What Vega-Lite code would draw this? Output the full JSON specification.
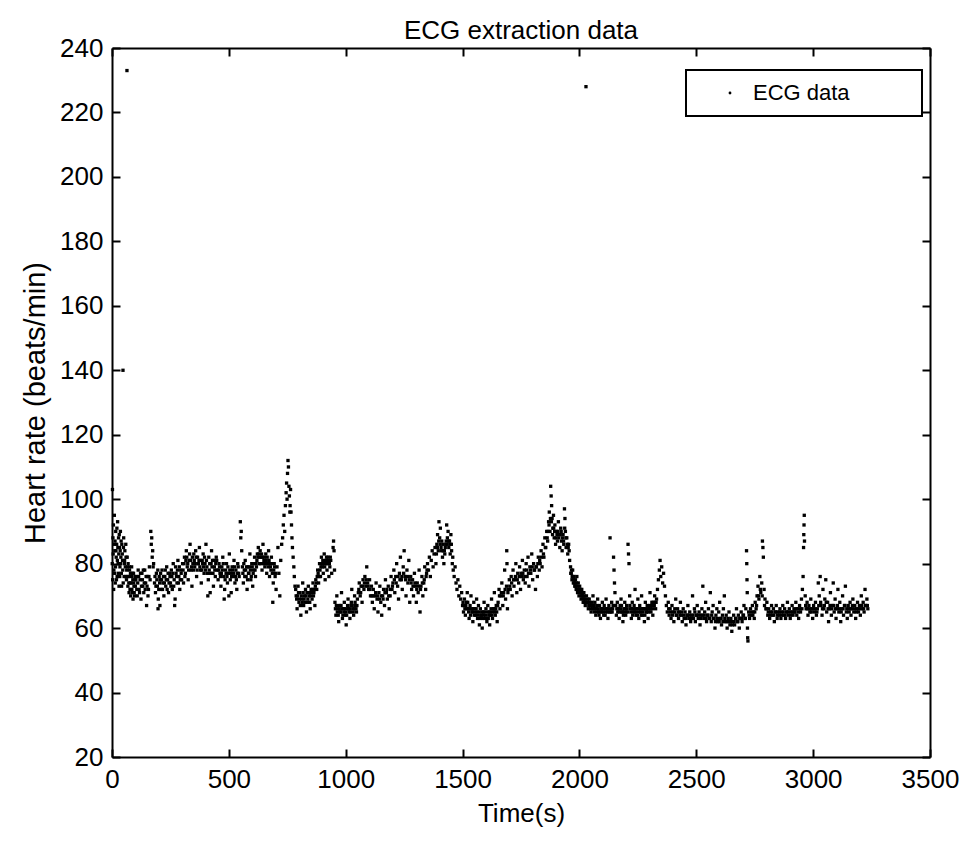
{
"$schema": "https://vega.github.io/schema/vega-lite/v6.json",
"width": 818, "height": 709,
"autosize": {"type": "none"},
"padding": {"left": 112, "top": 48, "right": 41, "bottom": 86},
"background": "white",
"config": {"font": "Liberation Sans", "view": {"stroke": null}, "legend": {"strokeWidth": 2}},
"title": {"text": "ECG extraction data", "fontSize": 26, "fontWeight": "normal", "color": "black", "offset": -9, "anchor": "middle", "frame": "group"},
"data": {"values": [
{"t":1,"h":80},{"t":2,"h":103},{"t":3,"h":75},{"t":4,"h":88},{"t":5,"h":83},{"t":6,"h":92},{"t":7,"h":72},{"t":8,"h":78},{"t":9,"h":86},{"t":10,"h":95},{"t":11,"h":77},{"t":12,"h":84},{"t":14,"h":74},{"t":16,"h":90},{"t":18,"h":82},{"t":20,"h":86},{"t":22,"h":76},{"t":24,"h":93},{"t":26,"h":80},{"t":28,"h":88},{"t":30,"h":73},{"t":32,"h":85},{"t":34,"h":79},{"t":36,"h":90},{"t":38,"h":82},{"t":40,"h":77},{"t":42,"h":86},{"t":45,"h":81},{"t":47,"h":140},{"t":48,"h":74},{"t":50,"h":88},{"t":53,"h":80},{"t":55,"h":84},{"t":58,"h":76},{"t":60,"h":82},{"t":63,"h":78},{"t":64,"h":233},{"t":66,"h":79},{"t":68,"h":73},{"t":70,"h":76},{"t":73,"h":71},{"t":75,"h":78},{"t":78,"h":74},{"t":80,"h":70},{"t":83,"h":76},{"t":85,"h":72},{"t":88,"h":77},{"t":90,"h":69},{"t":93,"h":74},{"t":95,"h":71},{"t":98,"h":76},
{"t":100,"h":73},{"t":104,"h":76},{"t":108,"h":70},{"t":112,"h":78},{"t":116,"h":72},{"t":120,"h":75},{"t":124,"h":69},{"t":128,"h":77},{"t":132,"h":73},{"t":136,"h":71},{"t":140,"h":78},{"t":144,"h":74},{"t":148,"h":67},{"t":152,"h":76},{"t":156,"h":72},{"t":160,"h":79},{"t":163,"h":75},
{"t":166,"h":90},{"t":168,"h":86},{"t":170,"h":88},{"t":172,"h":82},{"t":174,"h":84},{"t":176,"h":79},{"t":178,"h":80},
{"t":182,"h":74},{"t":186,"h":71},{"t":190,"h":77},{"t":194,"h":73},{"t":197,"h":66},{"t":198,"h":69},{"t":202,"h":76},{"t":205,"h":67},{"t":206,"h":75},{"t":210,"h":72},{"t":214,"h":78},{"t":218,"h":74},{"t":222,"h":70},{"t":226,"h":76},{"t":230,"h":73},{"t":234,"h":79},{"t":238,"h":75},{"t":242,"h":71},{"t":246,"h":77},{"t":250,"h":74},
{"t":254,"h":78},{"t":258,"h":72},{"t":262,"h":80},{"t":266,"h":75},{"t":268,"h":67},{"t":270,"h":69},{"t":274,"h":77},{"t":278,"h":74},{"t":282,"h":81},{"t":286,"h":76},{"t":290,"h":72},{"t":294,"h":78},{"t":298,"h":75},
{"t":302,"h":80},{"t":306,"h":74},{"t":310,"h":82},{"t":314,"h":77},{"t":318,"h":84},{"t":322,"h":79},{"t":326,"h":75},{"t":330,"h":81},{"t":334,"h":86},{"t":338,"h":78},{"t":342,"h":73},{"t":346,"h":80},{"t":350,"h":83},
{"t":354,"h":79},{"t":358,"h":84},{"t":362,"h":76},{"t":366,"h":82},{"t":370,"h":80},{"t":374,"h":85},{"t":378,"h":78},{"t":382,"h":74},{"t":386,"h":81},{"t":390,"h":83},{"t":394,"h":77},{"t":398,"h":80},{"t":402,"h":86},{"t":406,"h":79},{"t":410,"h":70},{"t":412,"h":75},{"t":414,"h":82},{"t":418,"h":80},{"t":420,"h":71},{"t":422,"h":77},{"t":426,"h":84},{"t":430,"h":81},{"t":434,"h":73},{"t":438,"h":79},{"t":442,"h":76},{"t":446,"h":82},{"t":450,"h":78},
{"t":454,"h":75},{"t":458,"h":80},{"t":462,"h":77},{"t":466,"h":73},{"t":470,"h":79},{"t":474,"h":82},{"t":478,"h":76},{"t":480,"h":69},{"t":482,"h":72},{"t":486,"h":78},{"t":490,"h":80},{"t":494,"h":74},{"t":498,"h":77},{"t":500,"h":70},{"t":502,"h":83},{"t":506,"h":75},{"t":510,"h":71},{"t":514,"h":79},{"t":518,"h":76},{"t":522,"h":81},{"t":526,"h":74},{"t":530,"h":78},{"t":534,"h":72},{"t":538,"h":80},{"t":542,"h":77},
{"t":549,"h":93},{"t":551,"h":88},{"t":553,"h":90},{"t":555,"h":84},
{"t":558,"h":79},{"t":562,"h":74},{"t":566,"h":78},{"t":570,"h":81},{"t":574,"h":76},{"t":578,"h":72},{"t":582,"h":79},{"t":586,"h":77},{"t":590,"h":83},{"t":594,"h":75},{"t":598,"h":80},{"t":602,"h":73},{"t":606,"h":78},{"t":610,"h":82},{"t":614,"h":76},{"t":618,"h":79},
{"t":622,"h":83},{"t":626,"h":85},{"t":630,"h":80},{"t":634,"h":84},{"t":638,"h":82},{"t":642,"h":78},{"t":646,"h":86},{"t":650,"h":81},{"t":654,"h":79},{"t":658,"h":83},{"t":662,"h":77},{"t":666,"h":80},{"t":670,"h":84},{"t":674,"h":76},{"t":678,"h":79},{"t":682,"h":82},{"t":686,"h":77},{"t":688,"h":68},{"t":690,"h":74},{"t":694,"h":80},{"t":698,"h":76},
{"t":702,"h":72},{"t":706,"h":79},{"t":710,"h":85},{"t":714,"h":77},{"t":718,"h":70},{"t":722,"h":81},{"t":726,"h":86},{"t":730,"h":88},
{"t":733,"h":92},{"t":736,"h":95},{"t":739,"h":90},{"t":742,"h":98},{"t":745,"h":102},{"t":747,"h":105},{"t":749,"h":100},{"t":751,"h":108},{"t":753,"h":112},{"t":755,"h":110},{"t":757,"h":104},{"t":759,"h":101},
{"t":761,"h":96},{"t":762,"h":98},{"t":764,"h":103},{"t":766,"h":96},{"t":768,"h":92},{"t":770,"h":88},{"t":772,"h":85},{"t":775,"h":82},{"t":778,"h":79},{"t":780,"h":76},{"t":783,"h":73},
{"t":788,"h":70},{"t":792,"h":66},{"t":796,"h":73},{"t":800,"h":68},{"t":804,"h":71},{"t":808,"h":64},{"t":812,"h":69},{"t":816,"h":74},{"t":820,"h":67},{"t":824,"h":70},{"t":828,"h":72},{"t":832,"h":65},{"t":836,"h":68},{"t":840,"h":73},{"t":844,"h":70},{"t":848,"h":66},{"t":852,"h":72},{"t":856,"h":69},{"t":860,"h":74},{"t":864,"h":71},{"t":868,"h":67},
{"t":872,"h":75},{"t":876,"h":72},{"t":880,"h":78},{"t":884,"h":74},{"t":888,"h":80},{"t":892,"h":76},{"t":896,"h":82},{"t":900,"h":79},{"t":904,"h":77},{"t":908,"h":83},{"t":912,"h":75},{"t":916,"h":80},{"t":920,"h":78},{"t":924,"h":82},{"t":928,"h":76},{"t":932,"h":79},{"t":936,"h":81},{"t":940,"h":77},{"t":946,"h":85},{"t":948,"h":87},{"t":950,"h":84},{"t":952,"h":78},
{"t":954,"h":68},{"t":958,"h":64},{"t":962,"h":70},{"t":966,"h":66},{"t":970,"h":62},{"t":974,"h":67},{"t":978,"h":65},{"t":982,"h":71},{"t":986,"h":63},{"t":990,"h":66},{"t":994,"h":68},{"t":998,"h":64},{"t":1002,"h":61},{"t":1006,"h":66},{"t":1010,"h":69},{"t":1014,"h":65},{"t":1018,"h":63},{"t":1022,"h":67},{"t":1026,"h":72},{"t":1030,"h":66},{"t":1034,"h":64},{"t":1038,"h":70},{"t":1042,"h":67},{"t":1046,"h":65},{"t":1050,"h":69},
{"t":1054,"h":71},{"t":1058,"h":74},{"t":1062,"h":70},{"t":1066,"h":73},{"t":1070,"h":68},{"t":1074,"h":75},{"t":1078,"h":72},{"t":1082,"h":76},{"t":1086,"h":73},{"t":1090,"h":79},{"t":1094,"h":74},{"t":1098,"h":72},{"t":1102,"h":75},{"t":1106,"h":70},{"t":1110,"h":73},
{"t":1114,"h":68},{"t":1118,"h":72},{"t":1122,"h":66},{"t":1126,"h":70},{"t":1130,"h":74},{"t":1134,"h":69},{"t":1138,"h":65},{"t":1142,"h":71},{"t":1146,"h":73},{"t":1150,"h":68},{"t":1154,"h":64},{"t":1158,"h":70},{"t":1162,"h":72},{"t":1166,"h":67},{"t":1170,"h":75},{"t":1174,"h":71},{"t":1178,"h":69},{"t":1182,"h":73},{"t":1186,"h":66},{"t":1190,"h":70},{"t":1194,"h":76},{"t":1198,"h":72},
{"t":1202,"h":74},{"t":1206,"h":78},{"t":1210,"h":71},{"t":1214,"h":76},{"t":1218,"h":80},{"t":1222,"h":73},{"t":1226,"h":69},{"t":1230,"h":77},{"t":1234,"h":82},{"t":1238,"h":75},{"t":1242,"h":72},{"t":1246,"h":79},{"t":1250,"h":84},{"t":1254,"h":76},{"t":1258,"h":70},{"t":1262,"h":78},{"t":1266,"h":74},{"t":1270,"h":81},{"t":1274,"h":68},{"t":1278,"h":76},
{"t":1282,"h":72},{"t":1286,"h":75},{"t":1290,"h":70},{"t":1294,"h":77},{"t":1298,"h":73},{"t":1302,"h":68},{"t":1306,"h":74},{"t":1310,"h":71},{"t":1314,"h":78},{"t":1318,"h":65},{"t":1322,"h":73},{"t":1326,"h":76},{"t":1330,"h":70},{"t":1334,"h":74},{"t":1338,"h":79},{"t":1342,"h":72},{"t":1346,"h":77},{"t":1350,"h":80},
{"t":1354,"h":78},{"t":1358,"h":82},{"t":1362,"h":76},{"t":1366,"h":81},{"t":1370,"h":84},{"t":1374,"h":79},{"t":1378,"h":83},{"t":1382,"h":85},{"t":1386,"h":80},
{"t":1390,"h":86},{"t":1393,"h":89},{"t":1396,"h":84},{"t":1399,"h":93},{"t":1402,"h":88},{"t":1405,"h":91},{"t":1408,"h":85},{"t":1411,"h":87},{"t":1414,"h":82},{"t":1417,"h":84},{"t":1420,"h":80},
{"t":1424,"h":83},{"t":1428,"h":86},{"t":1432,"h":92},{"t":1435,"h":88},{"t":1438,"h":90},{"t":1441,"h":85},{"t":1444,"h":87},{"t":1447,"h":83},{"t":1450,"h":89},{"t":1453,"h":84},{"t":1456,"h":80},{"t":1460,"h":78},
{"t":1464,"h":76},{"t":1468,"h":79},{"t":1472,"h":74},{"t":1476,"h":72},{"t":1480,"h":75},{"t":1484,"h":70},{"t":1488,"h":73},{"t":1492,"h":69},{"t":1496,"h":71},{"t":1500,"h":67},
{"t":1504,"h":65},{"t":1508,"h":69},{"t":1512,"h":64},{"t":1516,"h":68},{"t":1520,"h":71},{"t":1524,"h":66},{"t":1528,"h":63},{"t":1532,"h":67},{"t":1536,"h":70},{"t":1540,"h":65},{"t":1544,"h":62},{"t":1548,"h":68},{"t":1552,"h":66},{"t":1556,"h":64},{"t":1560,"h":69},
{"t":1564,"h":63},{"t":1568,"h":67},{"t":1572,"h":61},{"t":1576,"h":66},{"t":1580,"h":64},{"t":1584,"h":60},{"t":1588,"h":65},{"t":1592,"h":68},{"t":1596,"h":63},{"t":1600,"h":66},{"t":1604,"h":62},{"t":1608,"h":67},{"t":1612,"h":64},{"t":1616,"h":61},{"t":1620,"h":65},{"t":1624,"h":69},{"t":1628,"h":63},{"t":1632,"h":66},{"t":1636,"h":71},{"t":1640,"h":64},{"t":1644,"h":67},{"t":1648,"h":62},
{"t":1652,"h":68},{"t":1656,"h":72},{"t":1660,"h":66},{"t":1664,"h":70},{"t":1668,"h":74},{"t":1672,"h":67},{"t":1676,"h":71},{"t":1680,"h":78},{"t":1684,"h":69},{"t":1688,"h":73},{"t":1689,"h":84},{"t":1690,"h":80},{"t":1692,"h":66},{"t":1696,"h":72},{"t":1700,"h":75},
{"t":1704,"h":72},{"t":1708,"h":76},{"t":1712,"h":70},{"t":1716,"h":78},{"t":1720,"h":73},{"t":1724,"h":75},{"t":1728,"h":80},{"t":1732,"h":71},{"t":1736,"h":77},{"t":1740,"h":74},{"t":1744,"h":79},{"t":1748,"h":72},{"t":1752,"h":76},{"t":1756,"h":81},{"t":1760,"h":75},
{"t":1764,"h":78},{"t":1768,"h":74},{"t":1772,"h":80},{"t":1776,"h":76},{"t":1780,"h":82},{"t":1784,"h":73},{"t":1788,"h":79},{"t":1792,"h":77},{"t":1796,"h":83},{"t":1800,"h":75},{"t":1804,"h":80},{"t":1808,"h":78},{"t":1812,"h":72},{"t":1816,"h":79},{"t":1820,"h":76},{"t":1824,"h":82},{"t":1828,"h":78},
{"t":1832,"h":80},{"t":1836,"h":84},{"t":1840,"h":79},{"t":1844,"h":86},{"t":1848,"h":82},{"t":1852,"h":88},{"t":1856,"h":85},{"t":1860,"h":90},{"t":1864,"h":87},
{"t":1868,"h":93},{"t":1871,"h":96},{"t":1874,"h":90},{"t":1877,"h":104},{"t":1879,"h":101},{"t":1881,"h":98},{"t":1883,"h":94},{"t":1886,"h":91},{"t":1889,"h":95},{"t":1892,"h":88},{"t":1895,"h":92},{"t":1898,"h":86},
{"t":1902,"h":90},{"t":1906,"h":87},{"t":1910,"h":93},{"t":1913,"h":89},{"t":1916,"h":85},{"t":1920,"h":91},{"t":1923,"h":87},{"t":1926,"h":84},{"t":1930,"h":89},{"t":1933,"h":86},{"t":1936,"h":97},{"t":1938,"h":94},{"t":1940,"h":90},{"t":1943,"h":85},{"t":1946,"h":88},{"t":1950,"h":83},{"t":1954,"h":86},{"t":1958,"h":81},
{"t":1962,"h":79},{"t":1965,"h":77},{"t":1968,"h":75},{"t":1971,"h":78},{"t":1974,"h":74},{"t":1977,"h":76},{"t":1980,"h":73},{"t":1983,"h":75},{"t":1986,"h":72},{"t":1989,"h":76},{"t":1992,"h":71},{"t":1995,"h":74},{"t":1998,"h":70},{"t":2001,"h":73},{"t":2004,"h":71},{"t":2007,"h":69},{"t":2010,"h":72},{"t":2013,"h":70},{"t":2016,"h":68},{"t":2019,"h":71},{"t":2022,"h":69},{"t":2025,"h":67},{"t":2028,"h":228},{"t":2030,"h":70},{"t":2034,"h":68},{"t":2038,"h":66},{"t":2042,"h":69},{"t":2046,"h":67},{"t":2050,"h":65},{"t":2054,"h":68},{"t":2058,"h":70},{"t":2062,"h":66},{"t":2066,"h":68},{"t":2070,"h":64},{"t":2074,"h":67},{"t":2078,"h":69},{"t":2082,"h":65},{"t":2086,"h":67},{"t":2090,"h":63},{"t":2094,"h":66},{"t":2098,"h":68},
{"t":2102,"h":65},{"t":2106,"h":67},{"t":2110,"h":64},{"t":2114,"h":69},{"t":2118,"h":66},{"t":2122,"h":63},{"t":2126,"h":67},{"t":2131,"h":88},{"t":2134,"h":65},{"t":2138,"h":68},{"t":2142,"h":66},{"t":2146,"h":82},{"t":2148,"h":78},{"t":2150,"h":74},{"t":2152,"h":71},{"t":2155,"h":67},{"t":2158,"h":64},{"t":2162,"h":68},{"t":2166,"h":66},{"t":2170,"h":63},{"t":2174,"h":67},{"t":2178,"h":69},{"t":2182,"h":65},{"t":2186,"h":62},{"t":2190,"h":66},{"t":2194,"h":68},{"t":2198,"h":64},
{"t":2202,"h":67},{"t":2206,"h":65},{"t":2208,"h":86},{"t":2210,"h":83},{"t":2212,"h":80},{"t":2215,"h":70},{"t":2218,"h":66},{"t":2222,"h":63},{"t":2226,"h":68},{"t":2230,"h":65},{"t":2234,"h":67},{"t":2238,"h":72},{"t":2242,"h":64},{"t":2246,"h":66},{"t":2250,"h":69},{"t":2254,"h":63},{"t":2258,"h":67},{"t":2262,"h":65},{"t":2266,"h":70},{"t":2270,"h":64},{"t":2274,"h":66},{"t":2278,"h":62},{"t":2282,"h":68},{"t":2286,"h":65},{"t":2290,"h":67},{"t":2294,"h":63},{"t":2298,"h":66},
{"t":2302,"h":71},{"t":2306,"h":65},{"t":2310,"h":68},{"t":2314,"h":64},{"t":2318,"h":67},{"t":2322,"h":70},{"t":2326,"h":66},{"t":2330,"h":69},{"t":2334,"h":72},{"t":2338,"h":75},{"t":2342,"h":78},{"t":2345,"h":81},{"t":2348,"h":76},{"t":2352,"h":79},{"t":2356,"h":74},{"t":2360,"h":77},{"t":2364,"h":73},{"t":2368,"h":70},{"t":2372,"h":67},{"t":2376,"h":65},{"t":2380,"h":68},{"t":2384,"h":64},{"t":2388,"h":66},{"t":2392,"h":63},{"t":2396,"h":67},
{"t":2400,"h":65},{"t":2404,"h":62},{"t":2408,"h":66},{"t":2412,"h":69},{"t":2416,"h":64},{"t":2420,"h":66},{"t":2424,"h":63},{"t":2428,"h":65},{"t":2432,"h":68},{"t":2436,"h":64},{"t":2440,"h":62},{"t":2444,"h":66},{"t":2448,"h":63},{"t":2452,"h":65},{"t":2456,"h":61},{"t":2460,"h":64},{"t":2464,"h":67},{"t":2468,"h":63},{"t":2472,"h":65},{"t":2476,"h":62},{"t":2480,"h":64},{"t":2484,"h":70},{"t":2488,"h":63},{"t":2492,"h":66},{"t":2496,"h":62},
{"t":2500,"h":64},{"t":2504,"h":67},{"t":2508,"h":63},{"t":2512,"h":65},{"t":2516,"h":61},{"t":2520,"h":64},{"t":2524,"h":66},{"t":2528,"h":73},{"t":2532,"h":63},{"t":2536,"h":65},{"t":2540,"h":68},{"t":2544,"h":62},{"t":2548,"h":64},{"t":2552,"h":66},{"t":2556,"h":63},{"t":2560,"h":71},{"t":2564,"h":62},{"t":2568,"h":65},{"t":2572,"h":67},{"t":2576,"h":63},{"t":2580,"h":60},{"t":2584,"h":64},{"t":2588,"h":66},{"t":2592,"h":62},{"t":2596,"h":65},
{"t":2600,"h":68},{"t":2604,"h":63},{"t":2608,"h":61},{"t":2612,"h":64},{"t":2616,"h":66},{"t":2620,"h":70},{"t":2624,"h":62},{"t":2628,"h":64},{"t":2632,"h":60},{"t":2636,"h":63},{"t":2640,"h":65},{"t":2644,"h":61},{"t":2648,"h":63},{"t":2652,"h":59},{"t":2656,"h":62},{"t":2660,"h":64},{"t":2664,"h":61},{"t":2668,"h":63},{"t":2672,"h":66},{"t":2676,"h":62},{"t":2680,"h":64},{"t":2684,"h":60},{"t":2688,"h":63},{"t":2692,"h":65},{"t":2696,"h":62},
{"t":2700,"h":64},{"t":2704,"h":67},{"t":2708,"h":63},{"t":2712,"h":66},{"t":2715,"h":84},{"t":2716,"h":80},{"t":2717,"h":75},{"t":2718,"h":71},{"t":2719,"h":60},{"t":2720,"h":57},{"t":2721,"h":56},{"t":2724,"h":65},{"t":2728,"h":63},{"t":2732,"h":66},{"t":2736,"h":64},{"t":2740,"h":67},{"t":2744,"h":65},{"t":2748,"h":63},{"t":2752,"h":68},{"t":2756,"h":66},{"t":2760,"h":70},{"t":2764,"h":73},{"t":2768,"h":69},{"t":2772,"h":76},{"t":2776,"h":71},{"t":2780,"h":74},{"t":2783,"h":87},{"t":2785,"h":85},{"t":2787,"h":82},{"t":2790,"h":72},{"t":2794,"h":69},{"t":2798,"h":66},
{"t":2802,"h":68},{"t":2806,"h":64},{"t":2810,"h":66},{"t":2814,"h":63},{"t":2818,"h":65},{"t":2822,"h":67},{"t":2826,"h":64},{"t":2830,"h":66},{"t":2834,"h":62},{"t":2838,"h":65},{"t":2842,"h":67},{"t":2846,"h":63},{"t":2850,"h":65},{"t":2854,"h":64},{"t":2858,"h":66},{"t":2862,"h":63},{"t":2866,"h":65},{"t":2870,"h":67},{"t":2874,"h":64},{"t":2878,"h":66},{"t":2882,"h":63},{"t":2886,"h":65},{"t":2890,"h":68},{"t":2894,"h":64},{"t":2898,"h":66},
{"t":2902,"h":63},{"t":2906,"h":65},{"t":2910,"h":67},{"t":2914,"h":64},{"t":2918,"h":66},{"t":2922,"h":65},{"t":2926,"h":68},{"t":2930,"h":64},{"t":2934,"h":66},{"t":2938,"h":63},{"t":2942,"h":67},{"t":2946,"h":65},{"t":2950,"h":69},{"t":2954,"h":72},{"t":2957,"h":76},{"t":2959,"h":85},{"t":2960,"h":89},{"t":2961,"h":92},{"t":2962,"h":95},{"t":2963,"h":87},{"t":2966,"h":70},{"t":2970,"h":66},{"t":2974,"h":68},{"t":2978,"h":64},{"t":2982,"h":67},{"t":2986,"h":65},{"t":2990,"h":69},{"t":2994,"h":66},{"t":2998,"h":63},
{"t":3002,"h":67},{"t":3006,"h":65},{"t":3010,"h":68},{"t":3014,"h":64},{"t":3018,"h":66},{"t":3022,"h":74},{"t":3026,"h":70},{"t":3030,"h":76},{"t":3034,"h":67},{"t":3038,"h":64},{"t":3042,"h":72},{"t":3046,"h":66},{"t":3050,"h":69},{"t":3054,"h":75},{"t":3058,"h":65},{"t":3062,"h":68},{"t":3066,"h":62},{"t":3070,"h":66},{"t":3074,"h":71},{"t":3078,"h":64},{"t":3082,"h":67},{"t":3086,"h":74},{"t":3090,"h":65},{"t":3094,"h":69},{"t":3098,"h":63},
{"t":3102,"h":66},{"t":3106,"h":72},{"t":3110,"h":65},{"t":3114,"h":68},{"t":3118,"h":62},{"t":3122,"h":66},{"t":3126,"h":70},{"t":3130,"h":64},{"t":3134,"h":67},{"t":3138,"h":73},{"t":3142,"h":65},{"t":3146,"h":63},{"t":3150,"h":67},{"t":3154,"h":65},{"t":3158,"h":68},{"t":3162,"h":64},{"t":3166,"h":66},{"t":3170,"h":69},{"t":3174,"h":65},{"t":3178,"h":67},{"t":3182,"h":63},{"t":3186,"h":66},{"t":3190,"h":68},{"t":3194,"h":65},{"t":3198,"h":67},
{"t":3202,"h":64},{"t":3206,"h":70},{"t":3210,"h":66},{"t":3214,"h":68},{"t":3218,"h":65},{"t":3222,"h":72},{"t":3226,"h":67},{"t":3230,"h":69},{"t":3234,"h":66},
{"t":13,"h":87},{"t":15,"h":79},{"t":17,"h":84},{"t":19,"h":75},{"t":21,"h":91},{"t":23,"h":81},{"t":25,"h":85},{"t":27,"h":77},{"t":29,"h":83},{"t":31,"h":89},{"t":33,"h":76},{"t":35,"h":84},{"t":37,"h":80},{"t":39,"h":87},{"t":41,"h":73},{"t":44,"h":83},{"t":46,"h":78},{"t":49,"h":85},{"t":52,"h":76},{"t":54,"h":81},{"t":57,"h":79},{"t":59,"h":86},{"t":62,"h":75},{"t":65,"h":82},{"t":67,"h":76},{"t":69,"h":80},{"t":72,"h":74},{"t":74,"h":79},{"t":77,"h":72},{"t":79,"h":77},{"t":82,"h":74},{"t":84,"h":79},{"t":87,"h":71},{"t":89,"h":75},{"t":92,"h":77},{"t":94,"h":73},{"t":97,"h":70},{"t":99,"h":75},
{"t":102,"h":75},{"t":106,"h":72},{"t":110,"h":74},{"t":114,"h":76},{"t":118,"h":71},{"t":122,"h":77},{"t":126,"h":73},{"t":130,"h":75},{"t":134,"h":78},{"t":138,"h":74},{"t":142,"h":72},{"t":146,"h":76},{"t":150,"h":73},{"t":154,"h":70},{"t":158,"h":76},
{"t":184,"h":76},{"t":188,"h":73},{"t":192,"h":75},{"t":196,"h":78},{"t":200,"h":72},{"t":204,"h":74},{"t":208,"h":77},{"t":212,"h":75},{"t":216,"h":72},{"t":220,"h":76},{"t":224,"h":74},{"t":228,"h":78},{"t":232,"h":75},{"t":236,"h":72},{"t":240,"h":77},{"t":244,"h":74},{"t":248,"h":76},{"t":252,"h":73},{"t":256,"h":76},{"t":260,"h":77},{"t":264,"h":73},{"t":272,"h":79},{"t":276,"h":76},{"t":280,"h":78},{"t":284,"h":74},{"t":288,"h":79},{"t":292,"h":75},{"t":296,"h":77},
{"t":304,"h":78},{"t":308,"h":80},{"t":312,"h":76},{"t":316,"h":81},{"t":320,"h":82},{"t":324,"h":80},{"t":328,"h":78},{"t":332,"h":83},{"t":336,"h":81},{"t":340,"h":79},{"t":344,"h":82},{"t":348,"h":78},{"t":352,"h":81},{"t":356,"h":80},{"t":360,"h":82},{"t":364,"h":78},{"t":368,"h":80},{"t":372,"h":81},{"t":376,"h":79},{"t":380,"h":81},{"t":384,"h":78},{"t":388,"h":80},{"t":392,"h":79},{"t":396,"h":82},{"t":400,"h":78},{"t":404,"h":81},{"t":408,"h":77},{"t":416,"h":78},{"t":424,"h":80},{"t":428,"h":79},{"t":432,"h":77},{"t":436,"h":81},{"t":440,"h":78},{"t":444,"h":80},{"t":448,"h":81},
{"t":456,"h":78},{"t":460,"h":79},{"t":464,"h":76},{"t":468,"h":77},{"t":472,"h":78},{"t":476,"h":80},{"t":484,"h":75},{"t":488,"h":77},{"t":492,"h":76},{"t":496,"h":79},{"t":504,"h":78},{"t":508,"h":77},{"t":512,"h":76},{"t":516,"h":78},{"t":520,"h":77},{"t":524,"h":79},{"t":528,"h":76},{"t":532,"h":75},{"t":536,"h":77},{"t":540,"h":79},{"t":544,"h":76},{"t":560,"h":77},{"t":564,"h":80},{"t":568,"h":76},{"t":572,"h":78},{"t":576,"h":79},{"t":580,"h":75},{"t":584,"h":77},{"t":588,"h":79},{"t":592,"h":78},{"t":596,"h":76},{"t":600,"h":79},{"t":604,"h":77},{"t":608,"h":80},{"t":612,"h":78},{"t":616,"h":80},{"t":620,"h":81},{"t":624,"h":82},{"t":628,"h":83},{"t":632,"h":82},{"t":636,"h":80},{"t":640,"h":83},{"t":644,"h":82},{"t":648,"h":80},{"t":652,"h":82},{"t":656,"h":80},{"t":660,"h":81},{"t":664,"h":82},{"t":668,"h":79},{"t":672,"h":81},{"t":676,"h":80},{"t":680,"h":78},{"t":684,"h":80},{"t":692,"h":78},{"t":696,"h":79},{"t":700,"h":77},
{"t":786,"h":72},{"t":790,"h":69},{"t":794,"h":70},{"t":798,"h":71},{"t":802,"h":69},{"t":806,"h":67},{"t":810,"h":70},{"t":814,"h":68},{"t":818,"h":71},{"t":822,"h":69},{"t":826,"h":68},{"t":830,"h":70},{"t":834,"h":71},{"t":838,"h":69},{"t":842,"h":71},{"t":846,"h":68},{"t":850,"h":70},{"t":854,"h":71},{"t":858,"h":72},{"t":862,"h":70},{"t":866,"h":72},{"t":870,"h":73},{"t":874,"h":74},{"t":878,"h":76},{"t":882,"h":77},{"t":886,"h":76},{"t":890,"h":78},{"t":894,"h":79},{"t":898,"h":80},{"t":902,"h":81},{"t":906,"h":80},{"t":910,"h":79},{"t":914,"h":81},{"t":918,"h":82},{"t":922,"h":80},{"t":926,"h":81},{"t":930,"h":80},{"t":934,"h":82},
{"t":956,"h":66},{"t":960,"h":67},{"t":964,"h":65},{"t":968,"h":64},{"t":972,"h":66},{"t":976,"h":65},{"t":980,"h":67},{"t":984,"h":66},{"t":988,"h":64},{"t":992,"h":65},{"t":996,"h":66},{"t":1000,"h":65},{"t":1004,"h":64},{"t":1008,"h":67},{"t":1012,"h":66},{"t":1016,"h":66},{"t":1020,"h":65},{"t":1024,"h":68},{"t":1028,"h":67},{"t":1032,"h":65},{"t":1036,"h":66},{"t":1040,"h":68},{"t":1044,"h":66},{"t":1048,"h":67},
{"t":1056,"h":72},{"t":1064,"h":71},{"t":1072,"h":73},{"t":1080,"h":74},{"t":1088,"h":75},{"t":1096,"h":73},{"t":1104,"h":72},{"t":1112,"h":70},{"t":1120,"h":70},{"t":1128,"h":71},{"t":1136,"h":70},{"t":1144,"h":69},{"t":1152,"h":70},{"t":1160,"h":69},{"t":1168,"h":71},{"t":1176,"h":72},{"t":1184,"h":70},{"t":1192,"h":72},{"t":1200,"h":73},{"t":1208,"h":75},{"t":1216,"h":74},{"t":1224,"h":76},{"t":1232,"h":75},{"t":1240,"h":76},{"t":1248,"h":77},{"t":1256,"h":75},{"t":1264,"h":76},{"t":1272,"h":75},{"t":1280,"h":74},{"t":1288,"h":73},{"t":1296,"h":74},{"t":1304,"h":72},{"t":1312,"h":73},{"t":1320,"h":72},{"t":1328,"h":74},{"t":1336,"h":75},{"t":1344,"h":76},{"t":1348,"h":78},
{"t":1388,"h":83},{"t":1392,"h":85},{"t":1398,"h":87},{"t":1404,"h":86},{"t":1410,"h":84},{"t":1416,"h":86},{"t":1422,"h":84},{"t":1426,"h":85},{"t":1430,"h":87},{"t":1434,"h":86},{"t":1440,"h":87},{"t":1446,"h":86},{"t":1452,"h":86},{"t":1458,"h":82},
{"t":1502,"h":68},{"t":1506,"h":67},{"t":1510,"h":66},{"t":1514,"h":67},{"t":1518,"h":66},{"t":1522,"h":68},{"t":1526,"h":65},{"t":1530,"h":66},{"t":1534,"h":64},{"t":1538,"h":66},{"t":1542,"h":65},{"t":1546,"h":66},{"t":1550,"h":64},{"t":1554,"h":65},{"t":1558,"h":66},{"t":1562,"h":65},{"t":1566,"h":64},{"t":1570,"h":65},{"t":1574,"h":63},{"t":1578,"h":64},{"t":1582,"h":65},{"t":1586,"h":63},{"t":1590,"h":64},{"t":1594,"h":65},{"t":1598,"h":64},{"t":1602,"h":63},{"t":1606,"h":65},{"t":1610,"h":63},{"t":1614,"h":65},{"t":1618,"h":64},{"t":1622,"h":66},{"t":1626,"h":64},{"t":1630,"h":65},{"t":1634,"h":66},{"t":1638,"h":65},{"t":1642,"h":66},{"t":1646,"h":65},{"t":1650,"h":67},
{"t":1658,"h":70},{"t":1666,"h":71},{"t":1674,"h":70},{"t":1682,"h":72},{"t":1694,"h":71},{"t":1702,"h":73},{"t":1710,"h":74},{"t":1718,"h":75},{"t":1726,"h":76},{"t":1734,"h":75},{"t":1742,"h":76},{"t":1750,"h":77},{"t":1758,"h":77},{"t":1766,"h":76},{"t":1774,"h":78},{"t":1782,"h":77},{"t":1790,"h":78},{"t":1798,"h":79},{"t":1806,"h":78},{"t":1814,"h":79},{"t":1822,"h":80},{"t":1830,"h":81},{"t":1838,"h":82},{"t":1846,"h":83},{"t":1854,"h":85},{"t":1862,"h":88},
{"t":1866,"h":90},{"t":1870,"h":92},{"t":1876,"h":94},{"t":1880,"h":93},{"t":1885,"h":89},{"t":1890,"h":91},{"t":1894,"h":90},{"t":1900,"h":88},{"t":1904,"h":89},{"t":1908,"h":90},{"t":1912,"h":88},{"t":1918,"h":89},{"t":1922,"h":90},{"t":1928,"h":88},{"t":1932,"h":87},{"t":1937,"h":91},{"t":1942,"h":88},{"t":1948,"h":86},{"t":1952,"h":85},{"t":1956,"h":84},
{"t":1963,"h":77},{"t":1966,"h":78},{"t":1969,"h":76},{"t":1972,"h":76},{"t":1975,"h":75},{"t":1978,"h":74},{"t":1981,"h":74},{"t":1984,"h":73},{"t":1987,"h":74},{"t":1990,"h":72},{"t":1993,"h":73},{"t":1996,"h":72},{"t":1999,"h":72},{"t":2002,"h":71},{"t":2005,"h":72},{"t":2008,"h":70},{"t":2011,"h":70},{"t":2014,"h":71},{"t":2017,"h":69},{"t":2020,"h":70},{"t":2023,"h":68},{"t":2026,"h":69},{"t":2032,"h":68},{"t":2036,"h":69},{"t":2040,"h":67},{"t":2044,"h":68},{"t":2048,"h":66},{"t":2052,"h":67},{"t":2056,"h":66},{"t":2060,"h":67},{"t":2064,"h":65},{"t":2068,"h":66},{"t":2072,"h":66},{"t":2076,"h":65},{"t":2080,"h":66},{"t":2084,"h":64},{"t":2088,"h":65},{"t":2092,"h":66},{"t":2096,"h":65},{"t":2100,"h":66},{"t":2104,"h":64},{"t":2108,"h":66},{"t":2112,"h":65},{"t":2116,"h":66},{"t":2120,"h":65},{"t":2124,"h":66},{"t":2128,"h":65},
{"t":2136,"h":66},{"t":2140,"h":65},{"t":2144,"h":67},{"t":2160,"h":66},{"t":2164,"h":65},{"t":2168,"h":66},{"t":2172,"h":65},{"t":2176,"h":66},{"t":2180,"h":67},{"t":2184,"h":65},{"t":2188,"h":64},{"t":2192,"h":65},{"t":2196,"h":66},{"t":2200,"h":65},{"t":2204,"h":66},{"t":2216,"h":67},{"t":2220,"h":65},{"t":2224,"h":66},{"t":2228,"h":64},{"t":2232,"h":66},{"t":2236,"h":65},{"t":2240,"h":66},{"t":2244,"h":65},{"t":2248,"h":64},{"t":2252,"h":66},{"t":2256,"h":65},{"t":2260,"h":66},{"t":2264,"h":64},{"t":2268,"h":66},{"t":2272,"h":65},{"t":2276,"h":66},{"t":2280,"h":64},{"t":2284,"h":66},{"t":2288,"h":65},{"t":2292,"h":66},{"t":2296,"h":65},{"t":2300,"h":67},{"t":2304,"h":66},{"t":2308,"h":67},{"t":2312,"h":66},{"t":2316,"h":68},{"t":2320,"h":67},{"t":2324,"h":68},{"t":2328,"h":68},
{"t":2382,"h":66},{"t":2390,"h":65},{"t":2398,"h":64},{"t":2406,"h":65},{"t":2414,"h":64},{"t":2422,"h":65},{"t":2430,"h":64},{"t":2438,"h":65},{"t":2446,"h":64},{"t":2454,"h":63},{"t":2462,"h":64},{"t":2470,"h":64},{"t":2478,"h":63},{"t":2486,"h":64},{"t":2494,"h":65},{"t":2502,"h":64},{"t":2510,"h":64},{"t":2518,"h":63},{"t":2526,"h":64},{"t":2534,"h":64},{"t":2542,"h":63},{"t":2550,"h":64},{"t":2558,"h":63},{"t":2566,"h":64},{"t":2574,"h":63},{"t":2582,"h":62},{"t":2590,"h":63},{"t":2598,"h":62},{"t":2606,"h":63},{"t":2614,"h":62},{"t":2622,"h":63},{"t":2630,"h":62},{"t":2638,"h":62},{"t":2646,"h":62},{"t":2654,"h":61},{"t":2662,"h":62},{"t":2670,"h":63},{"t":2678,"h":62},{"t":2686,"h":63},{"t":2694,"h":63},{"t":2702,"h":64},{"t":2710,"h":63},
{"t":2726,"h":64},{"t":2734,"h":65},{"t":2742,"h":64},{"t":2750,"h":65},{"t":2758,"h":67},{"t":2766,"h":70},{"t":2774,"h":72},{"t":2782,"h":70},{"t":2792,"h":67},{"t":2800,"h":66},{"t":2808,"h":65},{"t":2816,"h":64},{"t":2824,"h":65},{"t":2832,"h":64},{"t":2840,"h":65},{"t":2848,"h":64},{"t":2856,"h":65},{"t":2864,"h":64},{"t":2872,"h":65},{"t":2880,"h":64},{"t":2888,"h":65},{"t":2896,"h":65},{"t":2904,"h":64},{"t":2912,"h":65},{"t":2920,"h":65},{"t":2928,"h":66},{"t":2936,"h":65},{"t":2944,"h":66},{"t":2952,"h":66},
{"t":2968,"h":67},{"t":2976,"h":66},{"t":2984,"h":66},{"t":2992,"h":65},{"t":3000,"h":66},{"t":3008,"h":66},{"t":3016,"h":65},{"t":3024,"h":67},{"t":3032,"h":68},{"t":3040,"h":66},{"t":3048,"h":67},{"t":3056,"h":68},{"t":3064,"h":66},{"t":3072,"h":67},{"t":3080,"h":66},{"t":3088,"h":67},{"t":3096,"h":66},{"t":3104,"h":67},{"t":3112,"h":66},{"t":3120,"h":65},{"t":3128,"h":66},{"t":3136,"h":67},{"t":3144,"h":66},{"t":3152,"h":66},{"t":3160,"h":66},{"t":3168,"h":67},{"t":3176,"h":66},{"t":3184,"h":65},{"t":3192,"h":66},{"t":3200,"h":66},{"t":3208,"h":67},{"t":3216,"h":66},{"t":3224,"h":67},{"t":3232,"h":67}
]},
"layer": [
{
"mark": {"type": "square", "size": 11, "opacity": 1},
"encoding": {
"x": {"field": "t", "type": "quantitative", "scale": {"domain": [0, 3500], "nice": false, "zero": false},
 "axis": {"orient": "bottom", "values": [0,500,1000,1500,2000,2500,3000,3500], "format": "d", "title": "Time(s)", "grid": false,
  "labelFontSize": 26, "labelColor": "black", "labelPadding": 17, "labelFlush": false, "labelOverlap": false,
  "tickSize": -8, "tickWidth": 2, "tickColor": "black", "domainColor": "black", "domainWidth": 2,
  "titleFontSize": 26, "titleFontWeight": "normal", "titleColor": "black", "titlePadding": 8}},
"y": {"field": "h", "type": "quantitative", "scale": {"domain": [20, 240], "nice": false, "zero": false},
 "axis": {"orient": "left", "values": [20,40,60,80,100,120,140,160,180,200,220,240], "format": "d", "title": "Heart rate (beats/min)", "grid": false,
  "labelFontSize": 26, "labelColor": "black", "labelPadding": 17, "labelFlush": false, "labelOverlap": false,
  "tickSize": -8, "tickWidth": 2, "tickColor": "black", "domainColor": "black", "domainWidth": 2,
  "titleFontSize": 29, "titleFontWeight": "normal", "titleColor": "black", "titlePadding": 9}},
"color": {"datum": "ECG data", "type": "nominal", "scale": {"range": ["black"]},
 "legend": {"orient": "none", "legendX": 574, "legendY": 22, "title": " ", "titleOrient": "right", "titleFontSize": 1, "titlePadding": 60,
  "labelFontSize": 22, "labelColor": "black",
  "strokeColor": "black", "fillColor": "white", "padding": 12, "symbolType": "circle", "symbolSize": 8,
  "symbolFillColor": "black", "symbolStrokeWidth": 0, "symbolOffset": 21, "labelOffset": 12}}
}
},
{
"mark": {"type": "square", "size": 1, "opacity": 0},
"encoding": {
"x": {"field": "t", "type": "quantitative",
 "axis": {"orient": "top", "values": [0,500,1000,1500,2000,2500,3000,3500], "title": null, "labels": false, "grid": false, "minExtent": 0, "maxExtent": 0,
  "tickSize": -8, "tickWidth": 2, "tickColor": "black", "domainColor": "black", "domainWidth": 2}},
"y": {"field": "h", "type": "quantitative",
 "axis": {"orient": "right", "values": [20,40,60,80,100,120,140,160,180,200,220,240], "title": null, "labels": false, "grid": false, "minExtent": 0, "maxExtent": 0,
  "tickSize": -8, "tickWidth": 2, "tickColor": "black", "domainColor": "black", "domainWidth": 2}}
}
}
],
"resolve": {"axis": {"x": "independent", "y": "independent"}}
}
